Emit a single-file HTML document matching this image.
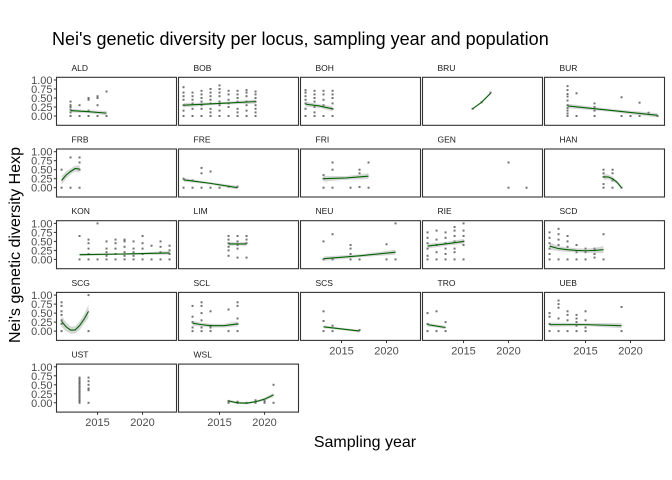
<!DOCTYPE html>
<html><head><meta charset="utf-8"><style>
body{margin:0;background:#fff;}
svg{display:block;font-family:"Liberation Sans",Arial,sans-serif;}
</style></head><body>
<svg id="chart" width="672" height="480" viewBox="0 0 672 480">
<text x="52" y="45" font-size="18" fill="#000">Nei's genetic diversity per locus, sampling year and population</text>
<text x="365" y="447" font-size="16" fill="#000" text-anchor="middle">Sampling year</text>
<text transform="translate(20,245) rotate(-90)" font-size="16" fill="#000" text-anchor="middle">Nei's genetic diversity Hexp</text>
<g id="panels"></g>
</svg>
<script>
const panelNames = ["ALD","BOB","BOH","BRU","BUR","FRB","FRE","FRI","GEN","HAN","KON","LIM","NEU","RIE","SCD","SCG","SCL","SCS","TRO","UEB","UST","WSL"];
const panelPoints = [
 [[2012,[0,0.1,0.18,0.25,0.3,0.4]],[2013,[0,0.3]],[2014,[0,0.15,0.45,0.5]],[2015,[0,0.3,0.5,0.55]],[2016,[0,0.68]]],
 [[2011,[0,0.15,0.3,0.45,0.55,0.65,0.8]],[2012,[0,0.2,0.35,0.45,0.55,0.65]],[2013,[0,0.2,0.3,0.4,0.5,0.6,0.7]],[2014,[0,0.1,0.2,0.35,0.45,0.55,0.65,0.75]],[2015,[0,0.15,0.3,0.4,0.55,0.65,0.75,0.85]],[2016,[0,0.25,0.35,0.45,0.6,0.7]],[2017,[0,0.1,0.2,0.4,0.5,0.6,0.7]],[2018,[0,0.15,0.3,0.4,0.55,0.65,0.72]],[2019,[0,0.1,0.2,0.3,0.4,0.5,0.6,0.68]]],
 [[2011,[0,0.2,0.35,0.45,0.55,0.65,0.72]],[2012,[0,0.1,0.25,0.4,0.5,0.6,0.7]],[2013,[0,0.3,0.45,0.6,0.7]],[2014,[0,0.2,0.35,0.5,0.6,0.7]]],
 [[2016,[0.2]],[2017,[0.38]],[2018,[0.65]]],
 [[2013,[0,0.07,0.15,0.22,0.3,0.43,0.54,0.61,0.72,0.83]],[2014,[0,0.63]],[2016,[0,0.15,0.25,0.35]],[2019,[0,0.52]],[2020,[0]],[2021,[0,0.37]],[2022,[0.09]],[2023,[0]]],
 [[2011,[0,0.5]],[2012,[0,0.84]],[2013,[0,0.5,0.7,0.84]]],
 [[2011,[0,0.25]],[2012,[0,0.2]],[2013,[0,0.4,0.55]],[2014,[0,0.45]],[2015,[0]],[2016,[0.03]],[2017,[0.03]]],
 [[2013,[0,0.25,0.35]],[2014,[0,0.5,0.7]],[2016,[0]],[2017,[0.02,0.4,0.5]],[2018,[0,0.7]]],
 [[2020,[0,0.7]],[2022,[0]]],
 [[2017,[0,0.1,0.3,0.4,0.5]],[2018,[0,0.2,0.4,0.5]],[2019,[0]]],
 [[2013,[0,0.65]],[2014,[0,0.15,0.3,0.45,0.55]],[2015,[0,1.0]],[2016,[0,0.1,0.2,0.3,0.5]],[2017,[0,0.15,0.3,0.45,0.55]],[2018,[0,0.1,0.2,0.35,0.5,0.55]],[2019,[0,0.1,0.2,0.3,0.5]],[2020,[0,0.15,0.3,0.45,0.65]],[2021,[0,0.38]],[2022,[0,0.2,0.35,0.5]],[2023,[0,0.15,0.25,0.38]]],
 [[2016,[0.1,0.25,0.35,0.45,0.55,0.65]],[2017,[0.05,0.3,0.4,0.5,0.65]],[2018,[0.05,0.45,0.55,0.65]]],
 [[2013,[0,0.5]],[2014,[0,0.7]],[2016,[0,0.15,0.3,0.4]],[2017,[0]],[2020,[0,0.42]],[2021,[0,1.0]]],
 [[2011,[0,0.1,0.3,0.45,0.6,0.75]],[2012,[0,0.2,0.4,0.55,0.8]],[2013,[0,0.15,0.3,0.45,0.6,0.75]],[2014,[0,0.2,0.3,0.5,0.65,0.8,0.9]],[2015,[0,0.4,0.5,0.65,0.8,1.0]]],
 [[2011,[0,0.15,0.3,0.45,0.6,0.75]],[2012,[0,0.4,0.55,0.7,0.85]],[2013,[0,0.35,0.5,0.65]],[2014,[0,0.2,0.4]],[2015,[0,0.2,0.3]],[2016,[0.05,0.15,0.25,0.3]],[2017,[0,0.7]]],
 [[2011,[0,0.2,0.3,0.45,0.55,0.7,0.8]],[2014,[0,1.0]]],
 [[2012,[0,0.1,0.25,0.4,0.7]],[2013,[0,0.1,0.3,0.5,0.7,0.8]],[2014,[0,0.1,0.15,0.55]],[2016,[0,0.6]],[2017,[0,0.2,0.35,0.7,0.8]]],
 [[2013,[0,0.28,0.55]],[2014,[0,0.15]],[2017,[0.03]]],
 [[2011,[0,0.2,0.5]],[2012,[0,0.55]],[2013,[0,0.25]]],
 [[2011,[0,0.2,0.4,0.5]],[2012,[0,0.35,0.65,0.75,0.85]],[2013,[0,0.3,0.45,0.55]],[2014,[0,0.15,0.25,0.35,0.45]],[2015,[0,0.1,0.3,0.55]],[2019,[0,0.67]]],
 [[2013,[0,0.05,0.1,0.15,0.2,0.25,0.3,0.35,0.4,0.45,0.5,0.55,0.6,0.65,0.7]],[2014,[0,0.35,0.4,0.5,0.6,0.7]]],
 [[2016,[0,0.05]],[2017,[0,0.03]],[2018,[0]],[2019,[0,0.07]],[2020,[0,0.05]],[2021,[0,0.5]]]
];
const panelSmooth = [
 [[2012,0.15,0.05],[2014,0.12,0.04],[2016,0.08,0.06]],
 [[2011,0.3,0.06],[2015,0.35,0.03],[2019,0.4,0.06]],
 [[2011,0.33,0.07],[2012.5,0.28,0.05],[2014,0.2,0.07]],
 [[2016,0.2,0.02],[2017,0.38,0.02],[2018,0.63,0.02]],
 [[2013,0.28,0.06],[2018,0.15,0.04],[2023,0.02,0.06]],
 [[2011,0.2,0.12],[2011.5,0.35,0.1],[2012,0.45,0.08],[2012.5,0.53,0.08],[2013,0.52,0.1]],
 [[2011,0.22,0.05],[2014,0.12,0.03],[2017,0.0,0.05]],
 [[2013,0.25,0.08],[2015.5,0.27,0.05],[2018,0.32,0.08]],
 [],
 [[2017,0.3,0.08],[2017.5,0.3,0.07],[2018,0.25,0.06],[2018.5,0.15,0.05],[2019,0.0,0.05]],
 [[2013,0.13,0.04],[2018,0.15,0.02],[2023,0.18,0.05]],
 [[2016,0.43,0.06],[2017,0.43,0.04],[2018,0.43,0.06]],
 [[2013,0.02,0.06],[2017,0.1,0.04],[2021,0.2,0.07]],
 [[2011,0.37,0.07],[2013,0.43,0.05],[2015,0.5,0.07]],
 [[2011,0.37,0.1],[2012,0.3,0.07],[2013,0.27,0.06],[2014,0.25,0.06],[2015,0.24,0.06],[2016,0.25,0.07],[2017,0.27,0.1]],
 [[2011,0.27,0.15],[2011.5,0.12,0.12],[2012,0.03,0.1],[2012.5,0.03,0.1],[2013,0.15,0.12],[2013.5,0.33,0.13],[2014,0.55,0.18]],
 [[2012,0.22,0.07],[2013,0.18,0.05],[2014,0.15,0.05],[2015.5,0.15,0.05],[2017,0.2,0.07]],
 [[2013,0.12,0.04],[2015,0.06,0.03],[2017,0.0,0.04]],
 [[2011,0.18,0.05],[2012,0.14,0.04],[2013,0.1,0.05]],
 [[2011,0.18,0.06],[2015,0.18,0.04],[2019,0.15,0.07]],
 [],
 [[2016,0.05,0.04],[2017,0.0,0.03],[2018,-0.01,0.03],[2019,0.03,0.03],[2020,0.1,0.04],[2021,0.22,0.06]]
];
const yTickValues = [0,0.25,0.5,0.75,1];
const yTickLabels = ["0.00","0.25","0.50","0.75","1.00"];
const xTickValues = [2015,2020];
const xTickLabels = ["2015","2020"];

(function(){
const NS = "http://www.w3.org/2000/svg";
const PW = 120, PH = 48, X0 = 2010.44, PXY = 9, YTOP = 1.075, PXV = 36;
function panelLeft(c){ return 56.5 + c*122; }
function panelTop(r){ return 77.3 + r*71.7; }
function xs(c, yr){ return panelLeft(c) + (yr - X0)*PXY; }
function ys(r, v){ return panelTop(r) + (YTOP - v)*PXV; }
function mk(tag, attrs, parent){ const e = document.createElementNS(NS, tag); for (const k in attrs) e.setAttribute(k, attrs[k]); parent.appendChild(e); return e; }

const root = document.getElementById('panels');
panelNames.forEach((name, i) => {
  const c = i % 5, r = Math.floor(i / 5);
  const g = mk('g', {}, root);
  
  
  const strip = mk('text', {x: panelLeft(c)+15, y: panelTop(r)-6.5, 'font-size': 8.5, fill: '#1a1a1a'}, g);
  strip.textContent = name;
  
  
  const clipId = 'clip' + i;
  const cp = mk('clipPath', {id: clipId}, g);
  mk('rect', {x: panelLeft(c), y: panelTop(r), width: PW, height: PH}, cp);
  const inner = mk('g', {'clip-path': 'url(#' + clipId + ')'}, g);
  panelPoints[i].forEach(([yr, vals]) => {
    vals.forEach(v => {
      const p = mk('rect', {x: xs(c, yr)-1, y: ys(r, v)-1, width: 2, height: 2, fill: '#000', 'fill-opacity': 0.55}, inner);
      
      
    });
  });
  const sm = panelSmooth[i];
  if (sm.length) {
    const up = sm.map(d => xs(c, d[0]) + ',' + ys(r, d[1] + d[2]));
    const lo = sm.slice().reverse().map(d => xs(c, d[0]) + ',' + ys(r, d[1] - d[2]));
    const rib = mk('polygon', {points: up.concat(lo).join(' '), fill: '#999', 'fill-opacity': 0.4}, inner);
    
    
    const ln = mk('polyline', {points: sm.map(d => xs(c, d[0]) + ',' + ys(r, d[1])).join(' '), fill: 'none', stroke: '#006400', 'stroke-width': 1.1}, inner);
    
    
  }
  const border = mk('rect', {x: panelLeft(c), y: panelTop(r), width: PW, height: PH, fill: 'none', stroke: '#333', 'stroke-width': 1.1}, g);
  
  
  if (c === 0) {
    yTickValues.forEach((v, k) => {
      mk('line', {x1: panelLeft(c)-2.7, x2: panelLeft(c), y1: ys(r, v), y2: ys(r, v), stroke: '#333', 'stroke-width': 1}, g);
      const t = mk('text', {x: panelLeft(c)-4, y: ys(r, v)+4, 'font-size': 11, fill: '#4d4d4d', 'text-anchor': 'end'}, g);
      t.textContent = yTickLabels[k];
      
      
    });
  }
  if (i + 5 >= panelNames.length) {
    xTickValues.forEach((v, k) => {
      const yb = panelTop(r) + PH;
      mk('line', {x1: xs(c, v), x2: xs(c, v), y1: yb, y2: yb+2.7, stroke: '#333', 'stroke-width': 1}, g);
      const t = mk('text', {x: xs(c, v), y: yb+14, 'font-size': 11, fill: '#4d4d4d', 'text-anchor': 'middle'}, g);
      t.textContent = xTickLabels[k];
      
      
    });
  }
});
})();
</script>
</body></html>
